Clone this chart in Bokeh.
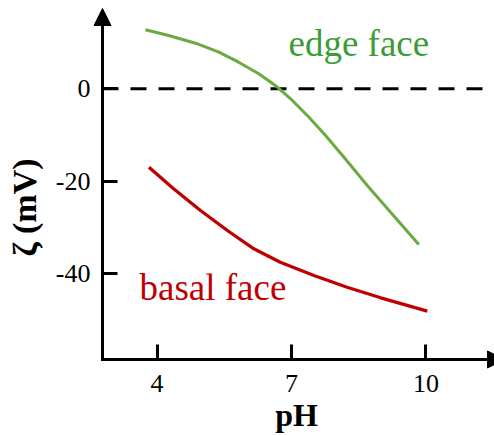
from bokeh.plotting import figure
from bokeh.models import Range1d, FixedTicker, Arrow, NormalHead, Label
from bokeh.embed import file_html
from bokeh.resources import INLINE

# data
edge_ph = [3.74, 4.26, 4.86, 5.38, 5.82, 6.27, 6.64, 7.02, 7.39, 7.76, 8.17, 8.69, 9.21, 9.84]
edge_zeta = [12.73, 11.50, 9.83, 7.89, 5.72, 3.21, 0.69, -2.56, -6.17, -10.13, -14.82, -20.94, -26.71, -33.69]
basal_ph = [3.82, 4.37, 4.97, 5.57, 6.16, 6.75, 7.50, 8.24, 8.99, 10.03]
basal_zeta = [-16.98, -21.65, -26.34, -30.67, -34.62, -37.52, -40.40, -42.93, -45.22, -48.11]
x_ticks = [4, 7, 10]
y_ticks = [0, -20, -40]
y_tick_labels = {0: "0", -20: "-20", -40: "-40"}

FONT = "Liberation Serif"
GREEN_LINE = "#6aab41"
GREEN_TEXT = "#3c9c36"
RED = "#c00000"

# visible ranges (whole canvas is the frame)
x0, x1 = 0.509, 11.528
y0, y1 = -75.21, 19.06
# where the drawn axes cross
ax_x = 2.784
ax_y = -58.56

p = figure(width=494, height=436, output_backend="svg", toolbar_location=None,
           x_range=Range1d(x0, x1), y_range=Range1d(y0, y1),
           min_border_left=0, min_border_right=0, min_border_top=0,
           min_border_bottom=0)
p.outline_line_color = None
p.grid.visible = False
p.background_fill_color = "white"
p.border_fill_color = "white"

for ax in (p.xaxis[0], p.yaxis[0]):
    ax.axis_line_color = None
    ax.major_tick_in = 15
    ax.major_tick_out = 0
    ax.major_tick_line_width = 3
    ax.major_tick_line_color = "black"
    ax.minor_tick_line_color = None
    ax.major_label_text_font = FONT
    ax.major_label_text_font_size = "26px"
    ax.major_label_text_color = "black"
    ax.axis_label_text_font = FONT
    ax.axis_label_text_font_style = "bold"
    ax.axis_label_text_color = "black"

xa = p.xaxis[0]
ya = p.yaxis[0]
xa.fixed_location = ax_y
ya.fixed_location = ax_x
xa.bounds = (ax_x, 11.44)
ya.bounds = (ax_y, 7.18)
xa.ticker = FixedTicker(ticks=x_ticks)
ya.ticker = FixedTicker(ticks=y_ticks)
ya.major_label_overrides = y_tick_labels
xa.axis_label = "pH"
ya.axis_label = "ζ (mV)"
xa.axis_label_text_font_size = "32px"
ya.axis_label_text_font_size = "34px"
xa.major_label_standoff = 16
ya.major_label_standoff = 12
xa.axis_label_standoff = 1
ya.axis_label_standoff = 10

# axis lines with arrow heads
p.line([ax_x, ax_x, 11.45], [15.0, ax_y, ax_y], line_color="black",
       line_width=3, line_join="miter")
p.add_layout(Arrow(end=NormalHead(size=17, fill_color="black", line_color="black"),
                   x_start=ax_x, y_start=0, x_end=ax_x, y_end=17.33,
                   line_color=None))
p.add_layout(Arrow(end=NormalHead(size=17, fill_color="black", line_color="black"),
                   x_start=9.0, y_start=ax_y, x_end=11.751, y_end=ax_y,
                   line_color=None))

# zero line
p.line([ax_x, 11.28], [0, 0], line_color="black", line_width=3, line_dash="16 12")

p.line(edge_ph, edge_zeta, line_color=GREEN_LINE, line_width=3)
p.line(basal_ph, basal_zeta, line_color=RED, line_width=3.3)

p.add_layout(Label(x=6.933, y=9.76, text="edge face", text_font=FONT,
                   text_font_size="37px", text_color=GREEN_TEXT,
                   text_baseline="alphabetic"))
p.add_layout(Label(x=3.609, y=-42.99, text="basal face", text_font=FONT,
                   text_font_size="37px", text_color=RED,
                   text_baseline="alphabetic"))

open("out.html", "w").write(file_html(p, INLINE))
